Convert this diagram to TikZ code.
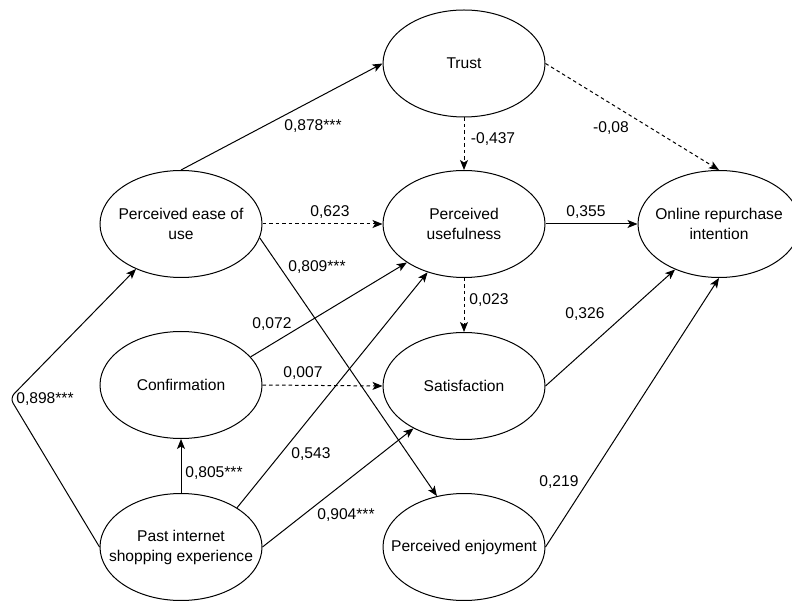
\documentclass[tikz,border=0pt]{standalone}
\usepackage{fontspec}
\setmainfont{Liberation Sans}
\usetikzlibrary{shapes.geometric,arrows.meta}
\begin{document}
\begin{tikzpicture}[x=1pt,y=-1pt,
  every node/.style={font=\fontsize{15.6}{20}\selectfont},
  ell/.style={ellipse,draw,line width=1pt,minimum width=162pt,minimum height=107pt,inner sep=0pt},
  conn/.style={line width=1pt,-{Stealth[length=10pt,width=8pt,inset=2.5pt]}},
  dconn/.style={conn,dash pattern=on 3.5pt off 3pt},
  lab/.style={inner sep=0pt}]
\useasboundingbox (0,0) rectangle (792,601);

% constructs
\node[ell,label={[align=center]center:{Trust}}] (trust) at (464,63.5) {};
\node[ell,label={[align=center]center:{Perceived\\usefulness}}] (pu) at (464,224) {};
\node[ell,label={[align=center]center:{Online repurchase\\intention}}] (ori) at (719,224) {};
\node[ell,label={[align=center]center:{Perceived ease of\\use}}] (peou) at (181,224) {};
\node[ell,label={[align=center]center:{Confirmation}}] (conf) at (181,385) {};
\node[ell,label={[align=center]center:{Satisfaction}}] (sat) at (464,386) {};
\node[ell,label={[align=center]center:{Past internet\\shopping experience}}] (past) at (181,547) {};
\node[ell,label={[align=center]center:{Perceived enjoyment}}] (pe) at (464,547) {};

\coordinate (bend) at (10,398);

% connectors
\draw[conn] (peou.north) -- (trust.west);
\draw[dconn] (peou.east) -- (pu.west);
\draw[conn] (peou.-10) -- (pe.118);
\draw[dconn] (trust.south) -- (pu.north);
\draw[dconn] (trust.east) -- (ori.north);
\draw[conn] (pu.east) -- (ori.west);
\draw[dconn] (pu.south) -- (sat.north);
\draw[conn] (conf.22) -- (pu.214);
\draw[dconn] (conf.east) -- (sat.west);
\draw[conn] (past.north) -- (conf.south);
\draw[conn] (past.35) -- (pu.233);
\draw[conn] (past.east) -- (sat.220);
\draw[conn,rounded corners=6pt] (past.west) -- (bend) -- (peou.225);
\draw[conn] (sat.east) -- (ori.226);
\draw[conn] (pe.east) -- (ori.south);

% path coefficients
\node[lab] (l1) at (313,126) {0,878***};
\node[lab] (l2) at (330,212) {0,623};
\node[lab] (l3) at (317,267) {0,809***};
\node[lab] (l4) at (493,139) {-0,437};
\node[lab] (l5) at (611,128) {-0,08};
\node[lab] (l6) at (586,212) {0,355};
\node[lab] (l7) at (489,300) {0,023};
\node[lab] (l8) at (272,324) {0,072};
\node[lab] (l9) at (303,373) {0,007};
\node[lab] (l10) at (45,399) {0,898***};
\node[lab] (l11) at (214,473) {0,805***};
\node[lab] (l12) at (311,454) {0,543};
\node[lab] (l13) at (346,515) {0,904***};
\node[lab] (l14) at (585,314) {0,326};
\node[lab] (l15) at (559,482) {0,219};
\end{tikzpicture}
\end{document}
